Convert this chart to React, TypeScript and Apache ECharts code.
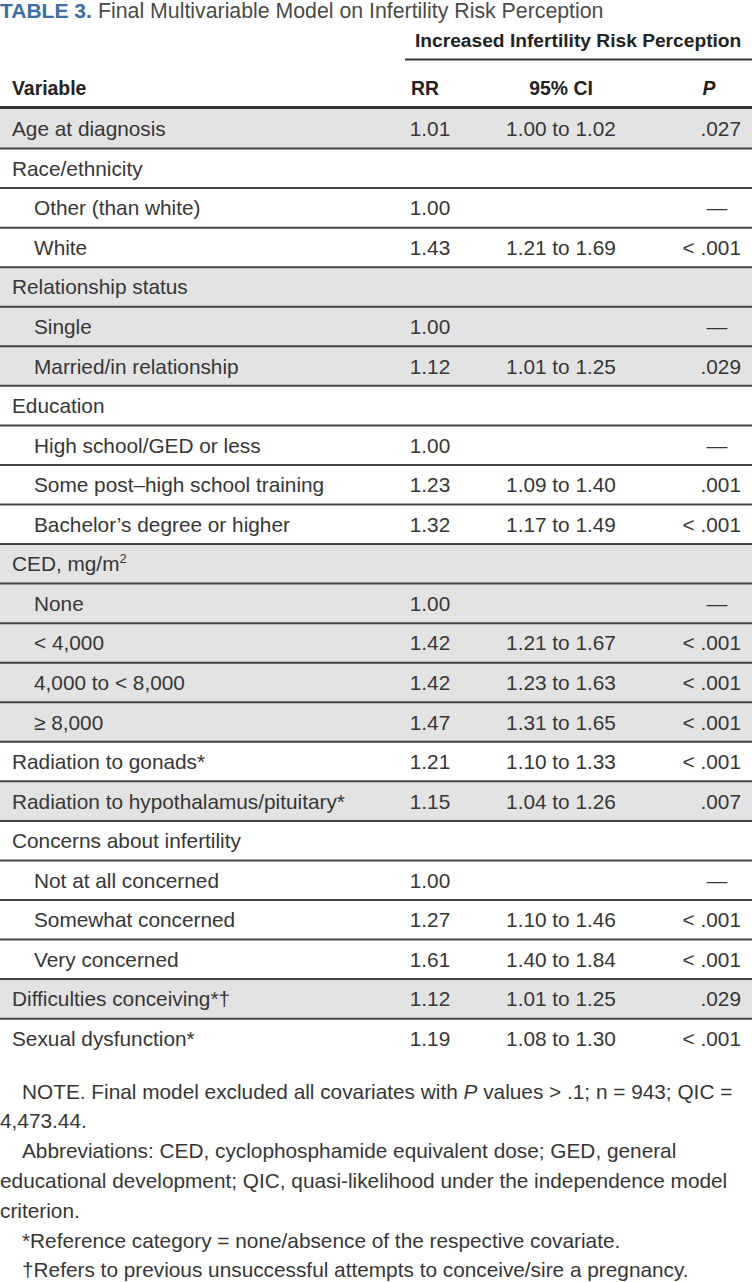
import React, { useEffect, useRef } from "react";
import * as echarts from "echarts";

const variables = [
  "Age at diagnosis", "Race/ethnicity", "Other (than white)", "White",
  "Relationship status", "Single", "Married/in relationship", "Education",
  "High school/GED or less", "Some post–high school training", "Bachelor’s degree or higher",
  "CED, mg/m", "None", "< 4,000", "4,000 to < 8,000", "≥ 8,000",
  "Radiation to gonads*", "Radiation to hypothalamus/pituitary*", "Concerns about infertility",
  "Not at all concerned", "Somewhat concerned", "Very concerned",
  "Difficulties conceiving*†", "Sexual dysfunction*",
];
const indentLevels = [0, 0, 1, 1, 0, 1, 1, 0, 1, 1, 1, 0, 1, 1, 1, 1, 0, 0, 0, 1, 1, 1, 0, 0];
const superscripts = ["", "", "", "", "", "", "", "", "", "", "", "2", "", "", "", "", "", "", "", "", "", "", "", ""];
const rrValues = ["1.01", "", "1.00", "1.43", "", "1.00", "1.12", "", "1.00", "1.23", "1.32", "", "1.00", "1.42", "1.42", "1.47", "1.21", "1.15", "", "1.00", "1.27", "1.61", "1.12", "1.19"];
const ciValues = ["1.00 to 1.02", "", "", "1.21 to 1.69", "", "", "1.01 to 1.25", "", "", "1.09 to 1.40", "1.17 to 1.49", "", "", "1.21 to 1.67", "1.23 to 1.63", "1.31 to 1.65", "1.10 to 1.33", "1.04 to 1.26", "", "", "1.10 to 1.46", "1.40 to 1.84", "1.01 to 1.25", "1.08 to 1.30"];
const pValues = [".027", "", "—", "< .001", "", "—", ".029", "", "—", ".001", "< .001", "", "—", "< .001", "< .001", "< .001", "< .001", ".007", "", "—", "< .001", "< .001", ".029", "< .001"];
const shadedRows = [1, 0, 0, 0, 1, 1, 1, 0, 0, 0, 0, 1, 1, 1, 1, 1, 0, 1, 0, 0, 0, 0, 1, 0];

const tableNumber = "TABLE 3.";
const tableTitle = "Final Multivariable Model on Infertility Risk Perception";
const spannerHeader = "Increased Infertility Risk Perception";
const columnHeaders = ["Variable", "RR", "95% CI", "P"];
const footnotes = [
  "NOTE. Final model excluded all covariates with {it|P} values > .1; n = 943; QIC =",
  "4,473.44.",
  "Abbreviations: CED, cyclophosphamide equivalent dose; GED, general",
  "educational development; QIC, quasi-likelihood under the independence model",
  "criterion.",
  "*Reference category = none/absence of the respective covariate.",
  "†Refers to previous unsuccessful attempts to conceive/sire a pregnancy.",
];
const footnoteIndent = [1, 0, 1, 0, 0, 1, 1];

const W = 752;
const H = 1282;
const FONT = '"Liberation Sans", Arial, sans-serif';
const FS = 20.8;
const TEXT = "#363636";
const HEAD = "#222222";
const SHADE = "#e4e3e3";
const RULE = "#444444";
const ROW_TOP = 109;
const ROW_H = 39.55;
const COL_VAR = 12;
const COL_INDENT = 34;
const COL_RR = 430;
const COL_CI = 561;
const COL_P = 741;
const COL_DASH = 717;

export default function App() {
  const ref = useRef<HTMLDivElement>(null);
  useEffect(() => {
    document.body.style.margin = "0";
    const chart = echarts.init(ref.current!, null, { renderer: "svg" });

    const renderItem = (params: any, api: any) => {
      const i = params.dataIndex;
      const c = api.coord([0, i]);
      const h = api.size([0, 1])[1];
      const yTop = c[1] - h / 2;
      const yMid = c[1];
      const children: any[] = [];
      if (shadedRows[i]) {
        children.push({ type: "rect", shape: { x: 0, y: yTop, width: W, height: h }, style: { fill: SHADE } });
      }
      if (i > 0) {
        children.push({ type: "line", shape: { x1: 0, y1: yTop, x2: W, y2: yTop }, style: { stroke: RULE, lineWidth: 2 } });
      }
      const xVar = api.coord([indentLevels[i] ? COL_INDENT : COL_VAR, i])[0];
      const sup = superscripts[i];
      children.push({
        type: "text",
        style: {
          text: sup ? `{a|${variables[i]}}{s|${sup}}` : variables[i],
          x: xVar, y: yMid, align: "left", verticalAlign: "middle",
          fontSize: FS, fontFamily: FONT, fill: TEXT,
          rich: sup ? {
            a: { fontSize: FS, fontFamily: FONT, fill: TEXT, lineHeight: 24 },
            s: { fontSize: 13, fontFamily: FONT, fill: TEXT, lineHeight: 13, verticalAlign: "top" },
          } : undefined,
        },
      });
      if (rrValues[i]) {
        children.push({ type: "text", style: { text: rrValues[i], x: api.coord([COL_RR, i])[0], y: yMid, align: "center", verticalAlign: "middle", fontSize: FS, fontFamily: FONT, fill: TEXT } });
      }
      if (ciValues[i]) {
        children.push({ type: "text", style: { text: ciValues[i], x: api.coord([COL_CI, i])[0], y: yMid, align: "center", verticalAlign: "middle", fontSize: FS, fontFamily: FONT, fill: TEXT } });
      }
      if (pValues[i]) {
        const dash = pValues[i] === "—";
        children.push({ type: "text", style: { text: pValues[i], x: api.coord([dash ? COL_DASH : COL_P, i])[0], y: yMid, align: dash ? "center" : "right", verticalAlign: "middle", fontSize: FS, fontFamily: FONT, fill: TEXT } });
      }
      return { type: "group", children };
    };

    const headerY = 88;
    const HFS = 19.4;
    const graphics: any[] = [
      { type: "text", left: 0, top: 0, style: { text: tableNumber, fontSize: 21, fontWeight: "bold", fontFamily: FONT, fill: "#3b6fa8" } },
      { type: "text", left: 98, top: 0, style: { text: tableTitle, fontSize: 21.3, fontFamily: FONT, fill: "#4a4a4a" } },
      { type: "text", x: 415, y: 40, style: { text: spannerHeader, fontSize: 19.2, fontWeight: "bold", fontFamily: FONT, fill: HEAD, align: "left", verticalAlign: "middle" } },
      { type: "line", shape: { x1: 405, y1: 59.5, x2: W, y2: 59.5 }, style: { stroke: "#333", lineWidth: 2 } },
      { type: "text", x: COL_VAR, y: headerY, style: { text: columnHeaders[0], fontSize: HFS, fontWeight: "bold", fontFamily: FONT, fill: HEAD, align: "left", verticalAlign: "middle" } },
      { type: "text", x: 425, y: headerY, style: { text: columnHeaders[1], fontSize: HFS, fontWeight: "bold", fontFamily: FONT, fill: HEAD, align: "center", verticalAlign: "middle" } },
      { type: "text", x: COL_CI, y: headerY, style: { text: columnHeaders[2], fontSize: HFS, fontWeight: "bold", fontFamily: FONT, fill: HEAD, align: "center", verticalAlign: "middle" } },
      { type: "text", x: 709, y: headerY, style: { text: columnHeaders[3], fontSize: HFS, fontWeight: "bold", fontStyle: "italic", fontFamily: FONT, fill: HEAD, align: "center", verticalAlign: "middle" } },
      { type: "line", shape: { x1: 0, y1: 107.5, x2: W, y2: 107.5 }, style: { stroke: "#333", lineWidth: 3 } },
    ];
    footnotes.forEach((t, k) => {
      graphics.push({
        type: "text",
        x: footnoteIndent[k] ? 22 : 0,
        y: 1091 + k * 29.8,
        style: {
          text: t, fontSize: FS, fontFamily: FONT, fill: TEXT, align: "left", verticalAlign: "middle",
          rich: { it: { fontSize: FS, fontFamily: FONT, fill: TEXT, fontStyle: "italic" } },
        },
      });
    });

    chart.setOption({
      animation: false,
      backgroundColor: "#ffffff",
      grid: { left: 0, right: 0, top: ROW_TOP, height: ROW_H * variables.length },
      xAxis: { type: "value", min: 0, max: W, show: false },
      yAxis: { type: "category", data: variables, inverse: true, show: false },
      series: [{
        type: "custom",
        renderItem,
        clip: false,
        data: variables.map((_, i) => [0, i]),
        encode: { x: 0, y: 1 },
      }],
      graphic: graphics,
    });
    return () => chart.dispose();
  }, []);
  return <div ref={ref} style={{ width: W, height: H }} />;
}
